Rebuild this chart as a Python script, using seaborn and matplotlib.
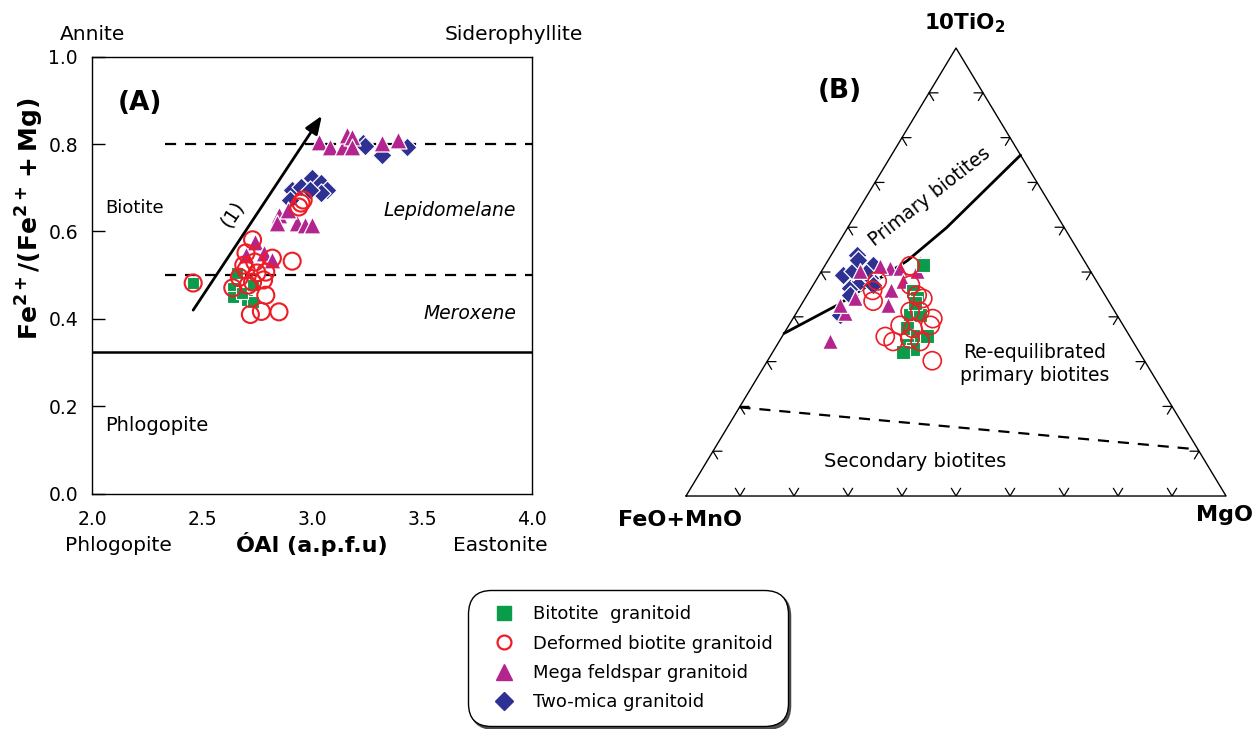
import numpy as np
import pandas as pd
import matplotlib
matplotlib.use("Agg")
import matplotlib.pyplot as plt
import seaborn as sns
from matplotlib.lines import Line2D

# ---------------- Panel A data (sum Al vs Fe2+/(Fe2+ + Mg)) ----------------
bt_al = [2.46, 2.64, 2.64, 2.705, 2.73, 2.68, 2.73, 2.66]
bt_fe = [0.482, 0.471, 0.450, 0.443, 0.439, 0.459, 0.478, 0.505]

dbt_al = [2.46, 2.64, 2.73, 2.70, 2.82, 2.91, 2.70, 2.75, 2.79, 2.67, 2.73, 2.78,
          2.71, 2.79, 2.77, 2.72, 2.85, 2.95, 2.94, 2.96, 2.74, 2.69]
dbt_fe = [0.482, 0.471, 0.581, 0.551, 0.539, 0.532, 0.512, 0.505, 0.507, 0.495, 0.484, 0.489,
          0.477, 0.454, 0.417, 0.410, 0.416, 0.665, 0.656, 0.672, 0.530, 0.523]

mf_al = [3.03, 3.08, 3.14, 3.16, 3.18, 3.18, 3.32, 3.39, 2.85, 2.84, 2.93, 2.97, 3.00,
         2.89, 2.74, 2.70, 2.78, 2.82]
mf_fe = [0.805, 0.793, 0.793, 0.821, 0.816, 0.793, 0.802, 0.810, 0.638, 0.619, 0.619, 0.614,
         0.614, 0.649, 0.576, 0.547, 0.551, 0.535]

tm_al = [3.23, 3.32, 3.43, 2.91, 2.95, 3.00, 3.04, 3.07, 3.04, 2.90, 2.99, 3.24]
tm_fe = [0.802, 0.775, 0.793, 0.695, 0.702, 0.722, 0.711, 0.695, 0.688, 0.672, 0.695, 0.795]

# ---------------- Panel B data (10TiO2 - FeO+MnO - MgO, %) ----------------
bt_t = [51.6, 45.7, 44.1, 40.3, 40.3, 37.4, 35.8, 35.8, 33.6, 32.9, 32.2, 43.0]
bt_f = [30.3, 35.2, 35.2, 38.4, 36.5, 40.4, 39.3, 37.5, 42.3, 41.5, 43.7, 36.1]
bt_m = [18.1, 19.1, 20.7, 21.3, 23.2, 22.2, 24.9, 26.7, 24.1, 25.6, 24.1, 20.9]

dbt_t = [51.4, 48.0, 45.9, 43.5, 47.1, 44.8, 44.1, 41.2, 41.2, 39.6, 38.1, 37.4, 34.5, 35.1,
         34.5, 30.2, 38.1, 35.6]
dbt_f = [32.8, 40.6, 42.5, 43.6, 34.9, 34.8, 34.1, 37.9, 36.1, 34.5, 41.3, 39.3, 44.4, 41.0,
         39.4, 39.3, 35.7, 45.3]
dbt_m = [15.8, 11.4, 11.6, 12.9, 18.0, 20.4, 21.8, 20.9, 22.7, 25.9, 20.6, 23.3, 21.1, 23.9,
         26.1, 30.5, 26.2, 19.1]

mf_t = [50.2, 50.9, 50.9, 52.0, 45.9, 42.6, 44.1, 40.8, 42.6, 34.7, 50.2, 48.0, 51.4]
mf_f = [42.7, 36.8, 35.0, 30.7, 39.0, 41.3, 46.7, 50.2, 50.2, 55.9, 32.1, 35.8, 38.4]
mf_m = [7.1, 12.3, 14.1, 17.3, 15.1, 16.1, 9.2, 9.0, 7.2, 9.4, 17.7, 16.2, 10.2]

tm_t = [53.8, 51.6, 46.4, 48.0, 49.3, 50.2, 48.6, 47.1, 40.3, 44.8, 52.7, 49.8]
tm_f = [41.4, 39.6, 46.4, 43.8, 46.3, 44.0, 41.6, 41.8, 51.4, 47.2, 41.8, 41.8]
tm_m = [4.8, 8.8, 7.2, 8.2, 4.4, 5.8, 9.8, 11.1, 8.3, 8.0, 5.5, 8.4]

# boundary lines of the ternary
prim_t = [36.3, 42.6, 52.5, 59.9, 76.1]
prim_f = [63.7, 50.7, 32.8, 21.8, 0.0]
prim_m = [0.0, 6.7, 14.7, 18.3, 23.9]
sec_t = [19.8, 10.4]
sec_f = [80.2, 0.0]
sec_m = [0.0, 89.6]

groups = ["Bitotite  granitoid", "Deformed biotite granitoid",
          "Mega feldspar granitoid", "Two-mica granitoid"]
colors = {"Bitotite  granitoid": "#0a9b4b", "Deformed biotite granitoid": "#ee1c25",
          "Mega feldspar granitoid": "#b4248f", "Two-mica granitoid": "#2e3192"}

sns.set_theme(style="white")
plt.rcParams["font.family"] = ["DejaVu Sans"]
plt.rcParams["mathtext.fontset"] = "dejavusans"
for k in ["text.color", "axes.labelcolor", "xtick.color", "ytick.color", "axes.edgecolor"]:
    plt.rcParams[k] = "black"

fig = plt.figure(figsize=(12.58, 7.29), dpi=100)

# ======================= Panel A =======================
axA = fig.add_axes([0.0731, 0.3229, 0.3498, 0.5993])
axA.set_xlim(2.0, 4.0)
axA.set_ylim(0.0, 1.0)

axA.hlines([0.8, 0.5], 2.33, 4.0, colors="black", linestyles=(0, (5, 4)), lw=1.6, zorder=1)
axA.axhline(0.325, color="black", lw=1.8, zorder=1)

def dfA(x, y):
    return pd.DataFrame({"x": x, "y": y})

sns.scatterplot(data=dfA(tm_al, tm_fe), x="x", y="y", ax=axA, marker="D", s=95,
                color=colors["Two-mica granitoid"], edgecolor="white", linewidth=0.9, zorder=3)
sns.scatterplot(data=dfA(mf_al, mf_fe), x="x", y="y", ax=axA, marker="^", s=150,
                color=colors["Mega feldspar granitoid"], edgecolor="white", linewidth=0.9, zorder=4)
sns.scatterplot(data=dfA(bt_al, bt_fe), x="x", y="y", ax=axA, marker="s", s=85,
                color=colors["Bitotite  granitoid"], edgecolor="white", linewidth=0.8, zorder=5)
sns.scatterplot(data=dfA(dbt_al, dbt_fe), x="x", y="y", ax=axA, marker="o", s=150,
                facecolor="none", edgecolor=colors["Deformed biotite granitoid"], linewidth=1.5, zorder=6)

axA.annotate("", xy=(3.045, 0.865), xytext=(2.46, 0.42),
             arrowprops=dict(arrowstyle="-|>,head_length=0.9,head_width=0.35", lw=2,
                             color="black", shrinkA=0, shrinkB=0), zorder=7)
axA.text(2.64, 0.64, "(1)", rotation=56, fontsize=14, ha="center", va="center")

axA.text(2.22, 0.894, "(A)", fontsize=19, fontweight="bold", ha="center", va="center")
axA.text(2.06, 0.654, "Biotite", fontsize=13, ha="left", va="center")
axA.text(3.625, 0.649, "Lepidomelane", fontsize=13.5, style="italic", ha="center", va="center")
axA.text(3.72, 0.413, "Meroxene", fontsize=13.5, style="italic", ha="center", va="center")
axA.text(2.06, 0.157, "Phlogopite", fontsize=14, ha="left", va="center")

axA.set_xticks([2.0, 2.5, 3.0, 3.5, 4.0])
axA.set_xticklabels(["2.0", "2.5", "3.0", "3.5", "4.0"])
axA.set_yticks([0.0, 0.2, 0.4, 0.6, 0.8, 1.0])
axA.set_yticklabels(["0.0", "0.2", "0.4", "0.6", "0.8", "1.0"])
axA.tick_params(axis="x", length=0, pad=12, labelsize=13.5)
axA.tick_params(axis="y", direction="in", length=9, width=1, pad=10, labelsize=13.5, left=True)
for sp in axA.spines.values():
    sp.set_color("black")
    sp.set_linewidth(1.0)
axA.set_xlabel("ÓAl (a.p.f.u)", fontsize=16, fontweight="bold", labelpad=2)
axA.set_ylabel(r"$\mathbf{Fe^{2+}/(Fe^{2+}+Mg)}$", fontsize=18)
axA.yaxis.set_label_coords(-0.105, 0.63)

fig.text(0.0477, 0.952, "Annite", fontsize=14.5, ha="left", va="center")
fig.text(0.4634, 0.952, "Siderophyllite", fontsize=14.5, ha="right", va="center")
fig.text(0.0517, 0.2524, "Phlogopite", fontsize=14.5, ha="left", va="center")
fig.text(0.360, 0.2524, "Eastonite", fontsize=14.5, ha="left", va="center")

# ======================= Panel B (ternary) =======================
axB = fig.add_axes([0.5453, 0.3196, 0.4293, 0.6145])

def tern_xy(t, f, m):
    t = np.asarray(t, float)
    f = np.asarray(f, float)
    m = np.asarray(m, float)
    s = t + f + m
    t, m = t / s, m / s
    return m + t / 2.0, t

def tern_df(t, f, m):
    x, y = tern_xy(t, f, m)
    return pd.DataFrame({"x": x, "y": y})

axB.plot([0, 1, 0.5, 0], [0, 0, 1, 0], color="black", lw=1.0, clip_on=False, zorder=1)

hx, sx, sy = 0.0167, 0.00865, 0.0173
for i in range(1, 10):
    v = i / 10
    axB.plot([v - sx, v, v + sx], [sy, 0, sy], color="black", lw=0.9, zorder=1)
    lx, ly = v / 2, v
    axB.plot([lx + hx, lx, lx + sx], [ly, ly, ly - sy], color="black", lw=0.9, zorder=1)
    rx, ry = 1 - v / 2, v
    axB.plot([rx - hx, rx, rx - sx], [ry, ry, ry - sy], color="black", lw=0.9, zorder=1)

px_, py_ = tern_xy(prim_t, prim_f, prim_m)
axB.plot(px_, py_, color="black", lw=2.0, zorder=2)
qx_, qy_ = tern_xy(sec_t, sec_f, sec_m)
axB.plot(qx_, qy_, color="black", lw=1.6, ls=(0, (5, 4)), zorder=2)

sns.scatterplot(data=tern_df(tm_t, tm_f, tm_m), x="x", y="y", ax=axB, marker="D", s=95,
                color=colors["Two-mica granitoid"], edgecolor="white", linewidth=0.9, zorder=3)
sns.scatterplot(data=tern_df(mf_t, mf_f, mf_m), x="x", y="y", ax=axB, marker="^", s=130,
                color=colors["Mega feldspar granitoid"], edgecolor="white", linewidth=0.9, zorder=4)
sns.scatterplot(data=tern_df(bt_t, bt_f, bt_m), x="x", y="y", ax=axB, marker="s", s=110,
                color=colors["Bitotite  granitoid"], edgecolor="white", linewidth=0.8, zorder=5)
sns.scatterplot(data=tern_df(dbt_t, dbt_f, dbt_m), x="x", y="y", ax=axB, marker="o", s=170,
                facecolor="none", edgecolor=colors["Deformed biotite granitoid"], linewidth=1.2, zorder=6)
axB.set_xlim(0, 1)
axB.set_ylim(0, 1)
axB.axis("off")

axB.text(0.517, 1.055, r"$\mathbf{10TiO_2}$", fontsize=15.5, ha="center", va="center", clip_on=False)
axB.text(0.285, 0.905, "(B)", fontsize=19, fontweight="bold", ha="center", va="center")
axB.text(0.452, 0.667, "Primary biotites", fontsize=13.5, rotation=38, ha="center", va="center")
axB.text(0.646, 0.295, "Re-equilibrated\nprimary biotites", fontsize=13.5, ha="center",
         va="center", linespacing=1.3)
axB.text(0.424, 0.077, "Secondary biotites", fontsize=14, ha="center", va="center")
axB.text(-0.012, -0.054, "FeO+MnO", fontsize=16, fontweight="bold", ha="center", va="center",
         clip_on=False)
axB.text(0.998, -0.043, "MgO", fontsize=16, fontweight="bold", ha="center", va="center",
         clip_on=False)

# ======================= Legend =======================
handles = [
    Line2D([], [], ls="none", marker="s", ms=10, mfc=colors[groups[0]], mec=colors[groups[0]]),
    Line2D([], [], ls="none", marker="o", ms=10, mfc="none", mec=colors[groups[1]], mew=1.6),
    Line2D([], [], ls="none", marker="^", ms=12, mfc=colors[groups[2]], mec=colors[groups[2]]),
    Line2D([], [], ls="none", marker="D", ms=9, mfc=colors[groups[3]], mec=colors[groups[3]]),
]
leg = fig.legend(handles, groups, loc="center", bbox_to_anchor=(0.499, 0.097),
                 fontsize=13, frameon=True, fancybox=True, shadow={"color": "0.25", "alpha": 0.9},
                 borderpad=0.35, labelspacing=0.62, handlelength=2.3, handletextpad=0.45,
                 borderaxespad=0)
leg.get_frame().set_edgecolor("black")
leg.get_frame().set_linewidth(1.0)
leg.get_frame().set_boxstyle("round,pad=0.5,rounding_size=1.3")

fig.savefig("out.png", dpi=100)
